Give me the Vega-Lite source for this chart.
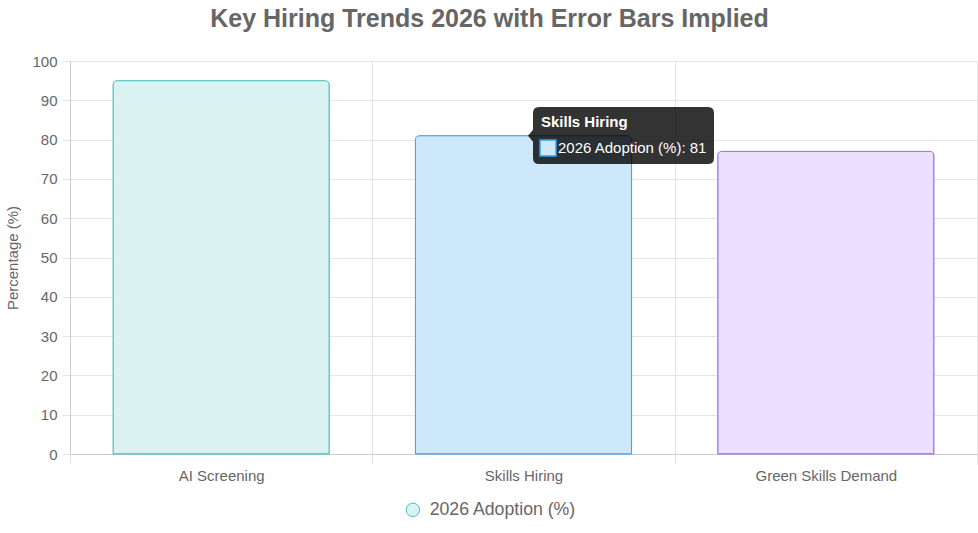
{
  "$schema": "https://vega.github.io/schema/vega-lite/v6.json",
  "width": 907,
  "height": 393,
  "autosize": "none",
  "padding": {"left": 70, "top": 61, "right": 1, "bottom": 79},
  "title": {
    "text": "Key Hiring Trends 2026 with Error Bars Implied",
    "fontSize": 25,
    "fontWeight": "bold",
    "color": "#666666",
    "anchor": "middle",
    "baseline": "alphabetic",
    "dx": -34,
    "offset": 2
  },
  "datasets": {
    "trends": [
      {"category": "AI Screening", "value": 95, "series": "2026 Adoption (%)"},
      {"category": "Skills Hiring", "value": 81, "series": "2026 Adoption (%)"},
      {"category": "Green Skills Demand", "value": 77, "series": "2026 Adoption (%)"}
    ],
    "hover": [
      {"category": "Skills Hiring", "value": 81, "head": "Skills Hiring", "body": "2026 Adoption (%): 81"}
    ]
  },
  "encoding": {
    "x": {
      "field": "category",
      "type": "nominal",
      "sort": null,
      "scale": {"paddingInner": 0, "paddingOuter": 0},
      "axis": {
        "title": null,
        "labelAngle": 0,
        "tickBand": "extent",
        "grid": true,
        "gridColor": "#e5e5e5",
        "domainColor": "#cccccc",
        "tickColor": "#e5e5e5",
        "tickSize": 10,
        "labelPadding": 4,
        "labelFontSize": 15,
        "labelColor": "#666666"
      }
    },
    "y": {
      "field": "value",
      "type": "quantitative",
      "scale": {"domain": [0, 100], "nice": false},
      "axis": {
        "title": "Percentage (%)",
        "titleFontSize": 15,
        "titleFontWeight": "normal",
        "titleColor": "#666666",
        "titlePadding": 11,
        "values": [0, 10, 20, 30, 40, 50, 60, 70, 80, 90, 100],
        "gridColor": "#e5e5e5",
        "domainColor": "#cccccc",
        "tickColor": "#e5e5e5",
        "tickSize": 8,
        "labelPadding": 5,
        "labelFontSize": 15,
        "labelColor": "#666666"
      }
    }
  },
  "layer": [
    {
      "data": {"name": "trends"},
      "mark": {
        "type": "bar",
        "width": {"band": 0.715},
        "strokeWidth": 1,
        "cornerRadiusTopLeft": 4,
        "cornerRadiusTopRight": 4
      },
      "encoding": {
        "fill": {
          "field": "category",
          "type": "nominal",
          "scale": {
            "domain": ["AI Screening", "Skills Hiring", "Green Skills Demand"],
            "range": ["#dbf2f2", "#cde8fa", "#ebe0ff"]
          },
          "legend": null
        },
        "stroke": {
          "field": "category",
          "type": "nominal",
          "scale": {
            "domain": ["AI Screening", "Skills Hiring", "Green Skills Demand"],
            "range": ["#4bc0c0", "#36a2eb", "#9966ff"]
          },
          "legend": null
        }
      }
    },
    {
      "data": {"name": "trends"},
      "mark": {
        "type": "point",
        "filled": true,
        "fill": "#dbf2f2",
        "stroke": "#4bc0c0",
        "strokeWidth": 1,
        "opacity": 0
      },
      "encoding": {
        "y": {"datum": 0},
        "shape": {
          "field": "series",
          "type": "nominal",
          "scale": {"range": ["circle"]},
          "legend": {
            "title": null,
            "orient": "none",
            "legendX": 334,
            "legendY": 440,
            "direction": "horizontal",
            "symbolSize": 180,
            "symbolOpacity": 1,
            "symbolStrokeWidth": 1,
            "labelFontSize": 17.7,
            "labelColor": "#666666",
            "labelOffset": 8
          }
        }
      }
    },
    {
      "data": {"name": "hover"},
      "mark": {
        "type": "point",
        "filled": true,
        "size": 40000,
        "fill": "#000000",
        "fillOpacity": 0.8,
        "shape": "M0.155,-0.287L1.845,-0.287Q1.905,-0.287 1.905,-0.227L1.905,0.223Q1.905,0.283 1.845,0.283L0.155,0.283Q0.095,0.283 0.095,0.223L0.095,0.06L0.045,0L0.095,-0.06L0.095,-0.227Q0.095,-0.287 0.155,-0.287Z"
      },
      "encoding": {}
    },
    {
      "data": {"name": "hover"},
      "mark": {
        "type": "point",
        "filled": true,
        "size": 40000,
        "fill": "#cde8fa",
        "stroke": "#36a2eb",
        "strokeWidth": 1.5,
        "opacity": 1,
        "shape": "M0.165,0.043L0.325,0.043L0.325,0.203L0.165,0.203Z"
      },
      "encoding": {}
    },
    {
      "data": {"name": "hover"},
      "mark": {
        "type": "text",
        "align": "left",
        "baseline": "middle",
        "dx": 17.5,
        "dy": -13.7,
        "fontSize": 15,
        "fontWeight": "bold",
        "color": "#ffffff"
      },
      "encoding": {"text": {"field": "head"}}
    },
    {
      "data": {"name": "hover"},
      "mark": {
        "type": "text",
        "align": "left",
        "baseline": "middle",
        "dx": 34.5,
        "dy": 12.3,
        "fontSize": 15,
        "color": "#ffffff"
      },
      "encoding": {"text": {"field": "body"}}
    }
  ],
  "config": {
    "font": "Liberation Sans",
    "view": {"stroke": null}
  }
}
